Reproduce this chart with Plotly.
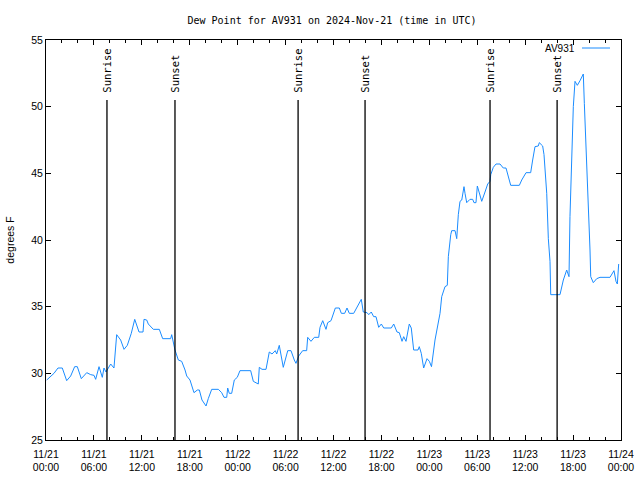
import pandas as pd
import plotly.graph_objects as go

BASE = pd.Timestamp("2024-11-21 00:00")

# hours since 2024-11-21 00:00 UTC
hours = [0.09, 0.59, 1.00, 1.50, 2.04, 2.59, 3.09, 3.59, 3.92, 4.42, 5.10, 5.60, 6.01, 6.22, 6.64,
         7.05, 7.26, 7.51, 8.10, 8.51, 8.85, 9.35, 9.77, 10.18, 10.68, 11.11, 11.65, 12.15, 12.27,
         12.61, 12.81, 13.44, 14.19, 14.61, 15.61, 15.74, 15.94, 16.15, 16.57, 16.99, 17.41, 17.62,
         18.03, 18.53, 18.95, 19.20, 19.53, 20.04, 20.32, 20.75, 21.58, 22.00, 22.29, 22.63, 22.75,
         22.95, 23.25, 23.58, 23.95, 24.29, 25.63, 25.96, 26.58, 26.71, 27.05, 27.55, 27.96, 28.30,
         28.71, 28.89, 29.21, 29.43, 29.71, 30.27, 30.68, 31.09, 31.30, 31.64, 32.14, 32.64, 32.77,
         33.18, 33.60, 34.15, 34.31, 34.65, 35.06, 35.27, 35.69, 36.23, 36.73, 36.98, 37.40, 37.69,
         37.98, 38.53, 39.07, 39.48, 39.73, 40.20, 40.41, 40.73, 41.03, 41.32, 41.66, 41.99, 42.29,
         43.24, 43.54, 43.95, 44.24, 44.58, 44.79, 45.08, 45.49, 45.74, 46.04, 46.58, 46.74, 46.99,
         47.29, 47.71, 48.00, 48.27, 48.71, 48.92, 49.34, 49.55, 49.96, 50.25, 50.38, 50.68, 50.80,
         51.22, 51.43, 51.63, 51.84, 52.06, 52.34, 52.47, 52.68, 53.09, 53.43, 53.59, 53.84, 54.01,
         54.26, 54.56, 54.97, 55.31, 55.60, 55.69, 56.01, 56.35, 56.85, 57.26, 57.60, 57.76, 58.01,
         58.19, 59.27, 59.57, 60.11, 60.69, 60.94, 61.23, 61.64, 61.77, 62.19, 62.36, 62.70, 62.90,
         63.11, 63.20, 64.36, 64.58, 64.78, 65.20, 65.49, 65.61, 65.83, 66.03, 66.24, 66.53, 66.87,
         67.28, 67.41, 67.71, 67.91, 68.12, 68.21, 68.53, 68.96, 69.37, 70.62, 71.12, 71.37, 71.54,
         71.71]
dewpoint = [29.5, 29.8, 30.0, 30.4, 30.4, 29.45, 29.8, 30.5, 30.5, 29.6, 30.05, 29.9, 29.85, 29.55, 30.5,
            29.7, 30.4, 30.1, 30.7, 30.4, 32.9, 32.5, 31.8, 32.1, 33.0, 34.05, 33.1, 33.1, 34.05,
            34.0, 33.7, 33.3, 33.3, 32.6, 32.6, 32.9, 32.25, 31.75, 31.0, 30.9, 30.25, 29.8,
            29.5, 28.55, 28.75, 28.75, 28.0, 27.55, 28.1, 28.8, 28.8, 28.55, 28.2, 28.2, 28.9,
            28.5, 28.5, 29.5, 29.7, 30.2, 30.2, 29.4, 29.2, 30.45, 30.3, 30.3, 31.6, 31.45,
            31.7, 31.45, 32.1, 31.25, 30.45, 31.7, 31.7, 31.0, 30.75, 31.3, 31.7, 31.7, 32.7,
            32.4, 32.7, 32.7, 33.45, 33.95, 33.3, 33.8, 33.95, 34.9, 34.9, 34.5, 34.5, 34.9,
            34.5, 34.5, 35.05, 35.55, 34.6, 34.55, 34.4, 34.6, 34.25, 34.25, 33.45, 33.7, 33.4,
            33.4, 33.7, 33.1, 33.05, 32.4, 32.75, 32.4, 33.7, 33.4, 31.75, 31.75, 32.0, 31.5,
            30.4, 31.1, 30.9, 30.5, 32.5, 33.25, 34.5, 35.75, 36.5, 36.6, 38.75, 40.4, 40.7,
            40.7, 40.1, 41.9, 42.9, 43.0, 44.0, 43.5, 42.8, 43.05, 43.05, 42.8, 42.8, 44.05,
            43.5, 42.9, 43.6, 44.2, 44.4, 44.9, 45.45, 45.7, 45.7, 45.4, 45.4, 45.0, 44.45,
            44.1, 44.1, 44.5, 45.05, 45.05, 46.0, 47.0, 47.05, 47.3, 47.05, 46.4, 43.5, 40.1,
            38.4, 35.9, 35.9, 36.5, 37.0, 37.75, 37.25, 41.75, 46.75, 50.0, 51.9, 51.6, 51.95,
            52.45, 50.25, 46.0, 42.25, 39.25, 37.25, 36.8, 37.1, 37.2, 37.2, 37.7, 36.9, 36.7,
            38.2]

sun_times = ["2024-11-21 07:38", "2024-11-21 16:09", "2024-11-22 07:34",
             "2024-11-22 15:57", "2024-11-23 07:36", "2024-11-23 16:00"]
sun_labels = ["Sunrise", "Sunset", "Sunrise", "Sunset", "Sunrise", "Sunset"]

tick_vals = pd.date_range("2024-11-21 00:00", "2024-11-24 00:00", freq="6h")
tick_text = [t.strftime("%m/%d<br>%H:%M") for t in tick_vals]
y_ticks = [25, 30, 35, 40, 45, 50, 55]

times = [BASE + pd.Timedelta(hours=h) for h in hours]

MONO = "DejaVu Sans Mono"
SANS = "Liberation Sans"
fig = go.Figure()
fig.add_trace(go.Scatter(x=times, y=dewpoint, mode="lines", name="AV931",
                         line=dict(color="#1a8cff", width=1), showlegend=False))

for t, lab in zip(sun_times, sun_labels):
    fig.add_shape(type="line", xref="x", yref="y", x0=t, x1=t, y0=25, y1=50.5,
                  line=dict(color="black", width=1.3))
    fig.add_annotation(x=t, y=50.9, xref="x", yref="y", text=lab, textangle=-90,
                       showarrow=False, xanchor="center", yanchor="bottom",
                       font=dict(family=MONO, size=10.5, color="black"))

# plot area spans x 46..621 px and y 40..440 px; legend in its top-right corner
PX0, PW, PY0, PH = 46, 575, 40, 400
fig.add_annotation(x=(577 - PX0) / PW, y=1 - (48 - PY0) / PH, xref="paper", yref="paper",
                   text="AV931", showarrow=False, xanchor="right", yanchor="middle",
                   font=dict(family=SANS, size=10, color="black"))
fig.add_shape(type="line", xref="paper", yref="paper", x0=(582 - PX0) / PW, x1=(610 - PX0) / PW,
              y0=1 - (48 - PY0) / PH, y1=1 - (48 - PY0) / PH,
              line=dict(color="#1a8cff", width=1))

axis_common = dict(showline=True, linecolor="black", linewidth=1, mirror="ticks",
                   ticks="inside", tickcolor="black", showgrid=False, zeroline=False)

fig.update_layout(
    width=640, height=480,
    margin=dict(l=PX0, r=640 - PX0 - PW, t=PY0, b=480 - PY0 - PH, autoexpand=False),
    paper_bgcolor="white", plot_bgcolor="white",
    title=dict(text="Dew Point for AV931 on 2024-Nov-21 (time in UTC)", x=332 / 640,
               xanchor="center", y=1 - 20 / 480, yanchor="middle",
               font=dict(family=MONO, size=10, color="black")),
    xaxis=dict(range=[tick_vals[0], tick_vals[-1]], tickvals=tick_vals, ticktext=tick_text,
               ticklen=5, ticklabelstandoff=4,
               tickfont=dict(family=SANS, size=10.5, color="black"),
               minor=dict(dtick=2 * 3600 * 1000, ticks="inside", ticklen=3,
                          tickcolor="black", showgrid=False),
               **axis_common),
    yaxis=dict(range=[25, 55], tickvals=y_ticks, ticklen=5,
               tickfont=dict(family=SANS, size=10.5, color="black"),
               title=dict(text="degrees F", font=dict(family=SANS, size=10.5, color="black"),
                          standoff=14),
               **axis_common),
)

fig.write_html("out.html")
